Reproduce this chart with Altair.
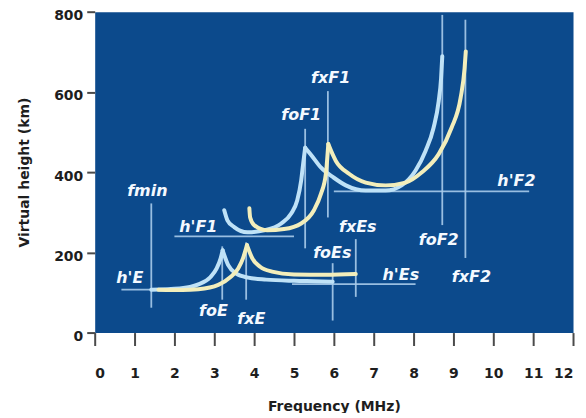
import altair as alt
import pandas as pd

# ---- ordinary (o-mode) traces, light blue ----
O_E_F = [1.42, 2.13, 2.6, 2.9, 3.06, 3.16, 3.21]
O_E_H = [107, 110, 120, 138, 160, 185, 205]
O_ES_F = [3.21, 3.35, 3.55, 3.85, 4.3, 5.0, 5.5, 5.97]
O_ES_H = [205, 168, 147, 137, 132, 129, 128, 127]
O_F1_F = [3.25, 3.33, 3.5, 3.83, 4.25, 4.68, 4.93, 5.08, 5.18, 5.23, 5.28]
O_F1_H = [305, 280, 263, 250, 255, 272, 297, 329, 379, 421, 461]
O_F2_F = [5.28, 5.43, 5.68, 6.0, 6.3, 6.8, 7.3, 7.7, 8.05, 8.3, 8.5, 8.63, 8.69, 8.72]
O_F2_H = [461, 443, 411, 386, 367, 354, 354, 367, 404, 453, 510, 577, 634, 689]

# ---- extraordinary (x-mode) traces, cream ----
X_E_F = [1.6, 2.2, 2.6, 3.1, 3.4, 3.6, 3.72, 3.82]
X_E_H = [107, 106, 108, 119, 138, 160, 185, 218]
X_ES_F = [3.82, 3.95, 4.15, 4.45, 5.0, 5.8, 6.55]
X_ES_H = [218, 186, 164, 152, 145, 144, 146]
X_F1_F = [3.88, 3.9, 4.0, 4.33, 4.75, 5.18, 5.5, 5.68, 5.8, 5.86]
X_F1_H = [310, 287, 268, 255, 258, 272, 305, 347, 396, 470]
X_F2_F = [5.86, 6.05, 6.38, 6.8, 7.3, 7.8, 8.2, 8.63, 8.95, 9.18, 9.28, 9.31]
X_F2_H = [470, 428, 396, 374, 367, 374, 399, 445, 510, 585, 659, 701]

# ---- vertical reference lines ----
V_NAMES = ["fmin", "foE", "fxE", "foF1", "fxF1", "foEs", "fxEs", "foF2", "fxF2"]
V_F = [1.42, 3.2, 3.8, 5.28, 5.85, 5.97, 6.55, 8.72, 9.3]
V_H1 = [62, 82, 82, 210, 287, 30, 89, 268, 186]
V_H2 = [322, 215, 225, 508, 602, 173, 233, 792, 780]

# ---- horizontal reference lines ----
H_NAMES = ["h'E", "h'F1", "h'Es", "h'F2"]
H_H = [107, 240, 121, 352]
H_F1 = [0.67, 2.0, 4.95, 6.0]
H_F2 = [2.5, 5.0, 8.05, 10.9]

# ---- labels ----
L_TEXT = ["fmin", "h'E", "h'F1", "foE", "fxE", "foF1", "fxF1", "h'F2",
          "foF2", "fxF2", "fxEs", "foEs", "h'Es"]
L_F = [1.32, 0.88, 2.6, 2.98, 3.93, 5.18, 5.92, 10.58, 8.63, 9.45, 6.6, 5.96, 7.68]
L_H = [354, 136, 262, 54, 35, 542, 634, 379, 230, 139, 262, 198, 144]

X_TICKS = list(range(13))
Y_TICKS = [0, 200, 400, 600, 800]

segments = [
    ("oE", "o", O_E_F, O_E_H), ("oEs", "o", O_ES_F, O_ES_H),
    ("oF1", "o", O_F1_F, O_F1_H), ("oF2", "o", O_F2_F, O_F2_H),
    ("xE", "x", X_E_F, X_E_H), ("xEs", "x", X_ES_F, X_ES_H),
    ("xF1", "x", X_F1_F, X_F1_H), ("xF2", "x", X_F2_F, X_F2_H),
]
rows = []
for seg, mode, fs, hs in segments:
    for f, h in zip(fs, hs):
        rows.append({"seg": seg, "mode": mode, "f": f, "h": h})
curves = pd.DataFrame(rows)

vdf = pd.DataFrame({"name": V_NAMES, "f": V_F, "h1": V_H1, "h2": V_H2})
hdf = pd.DataFrame({"name": H_NAMES, "h": H_H, "f1": H_F1, "f2": H_F2})
ldf = pd.DataFrame({"text": L_TEXT, "f": L_F, "h": L_H})

FONT = "DejaVu Sans"
xscale = alt.Scale(domain=[0, 12], nice=False)
yscale = alt.Scale(domain=[0, 800], nice=False)

xaxis = alt.Axis(values=X_TICKS, tickSize=13, tickWidth=2, tickColor="#4a4a4a",
                 domain=False, grid=False, labelFont=FONT, labelFontWeight="bold",
                 labelFontSize=14, labelColor="#1e1e1e", labelPadding=21,
                 labelOverlap=False,
                 title="Frequency (MHz)", titleFont=FONT, titleFontSize=14,
                 titleFontWeight="bold", titleColor="#1e1e1e", titlePadding=19)
yaxis = alt.Axis(values=Y_TICKS, tickSize=8, tickWidth=2,
                 tickColor="#4a4a4a", domain=False, grid=False, labelFont=FONT,
                 labelFontWeight="bold", labelFontSize=14, labelColor="#1e1e1e",
                 labelPadding=4, labelOffset=4, labelOverlap=False,
                 title="Virtual height (km)", titleFont=FONT,
                 titleFontSize=14, titleFontWeight="bold", titleColor="#1e1e1e",
                 titlePadding=22)

LINE_COL = "#a9cbea"

vrules = alt.Chart(vdf).mark_rule(color=LINE_COL, strokeWidth=1.8, opacity=0.9).encode(
    x=alt.X("f:Q", scale=xscale, axis=xaxis),
    y=alt.Y("h1:Q", scale=yscale, axis=yaxis),
    y2="h2:Q",
)
hrules = alt.Chart(hdf).mark_rule(color=LINE_COL, strokeWidth=1.8, opacity=0.9).encode(
    x=alt.X("f1:Q", scale=xscale, axis=xaxis),
    x2="f2:Q",
    y=alt.Y("h:Q", scale=yscale, axis=yaxis),
)
lines = alt.Chart(curves).mark_line(strokeWidth=4, interpolate="monotone",
                                    strokeCap="round").encode(
    x=alt.X("f:Q", scale=xscale, axis=xaxis),
    y=alt.Y("h:Q", scale=yscale, axis=yaxis),
    detail="seg:N",
    color=alt.Color("mode:N", scale=alt.Scale(domain=["o", "x"],
                                              range=["#bfe2f7", "#f3eebb"]),
                    legend=None),
)
labels = alt.Chart(ldf).mark_text(font=FONT, fontSize=16, fontWeight="bold",
                                  fontStyle="italic", color="#f4f9ff",
                                  align="center", baseline="middle").encode(
    x=alt.X("f:Q", scale=xscale, axis=xaxis),
    y=alt.Y("h:Q", scale=yscale, axis=yaxis),
    text="text:N",
)

chart = alt.layer(vrules, hrules, lines, labels).properties(
    width=480, height=322,
    autosize=alt.AutoSizeParams(type="none"),
    padding={"left": 87, "top": 3, "right": 5, "bottom": 80},
).configure_view(fill="#0c4a8c", stroke="transparent")

chart.save("out.html", embed_options={"renderer": "svg", "actions": False})
